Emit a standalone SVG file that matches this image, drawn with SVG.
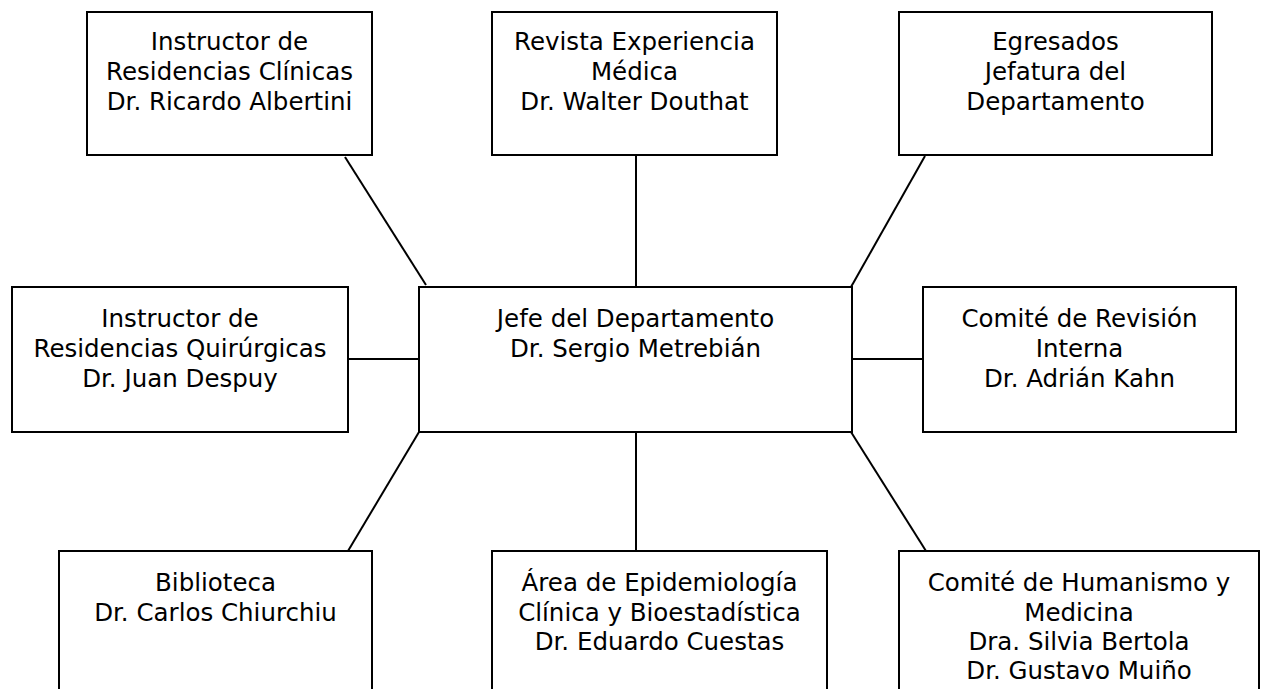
<svg xmlns="http://www.w3.org/2000/svg" width="1261" height="689" viewBox="0 0 1261 689">
<style>
.box{fill:#fff;stroke:#000;stroke-width:2}
.t{font-family:"DejaVu Sans",sans-serif;font-size:24.5px;fill:#000;text-anchor:middle}
.c{stroke:#000;stroke-width:2;fill:none}
</style>
<rect width="1261" height="689" fill="#fff"/>
<g id="connectors">
<line class="c" x1="345" y1="157" x2="426" y2="285"/>
<line class="c" x1="636" y1="155" x2="636" y2="287"/>
<line class="c" x1="925" y1="156" x2="851" y2="287"/>
<line class="c" x1="348" y1="359" x2="419" y2="359"/>
<line class="c" x1="852" y1="359" x2="923" y2="359"/>
<line class="c" x1="419" y1="432" x2="348" y2="551"/>
<line class="c" x1="636" y1="432" x2="636" y2="551"/>
<line class="c" x1="851" y1="432" x2="926" y2="551"/>
</g>
<g id="n_tl">
<rect class="box" x="87" y="12" width="285" height="143"/>
<text class="t" x="229.5" y="50">Instructor de</text>
<text class="t" x="229.5" y="80">Residencias Clínicas</text>
<text class="t" x="229.5" y="110">Dr. Ricardo Albertini</text>
</g>
<g id="n_tm">
<rect class="box" x="492" y="12" width="285" height="143"/>
<text class="t" x="634.5" y="50">Revista Experiencia</text>
<text class="t" x="634.5" y="80">Médica</text>
<text class="t" x="634.5" y="110">Dr. Walter Douthat</text>
</g>
<g id="n_tr">
<rect class="box" x="899" y="12" width="313" height="143"/>
<text class="t" x="1055.5" y="50">Egresados</text>
<text class="t" x="1055.5" y="80">Jefatura del</text>
<text class="t" x="1055.5" y="110">Departamento</text>
</g>
<g id="n_ml">
<rect class="box" x="12" y="287" width="336" height="145"/>
<text class="t" x="180" y="327">Instructor de</text>
<text class="t" x="180" y="357">Residencias Quirúrgicas</text>
<text class="t" x="180" y="387">Dr. Juan Despuy</text>
</g>
<g id="n_center">
<rect class="box" x="419" y="287" width="433" height="145"/>
<text class="t" x="635.5" y="327">Jefe del Departamento</text>
<text class="t" x="635.5" y="357">Dr. Sergio Metrebián</text>
</g>
<g id="n_mr">
<rect class="box" x="923" y="287" width="313" height="145"/>
<text class="t" x="1079.5" y="327">Comité de Revisión</text>
<text class="t" x="1079.5" y="357">Interna</text>
<text class="t" x="1079.5" y="387">Dr. Adrián Kahn</text>
</g>
<g id="n_bl">
<rect class="box" x="59" y="551" width="313" height="160"/>
<text class="t" x="215.5" y="591">Biblioteca</text>
<text class="t" x="215.5" y="621">Dr. Carlos Chiurchiu</text>
</g>
<g id="n_bm">
<rect class="box" x="492" y="551" width="335" height="160"/>
<text class="t" x="659.5" y="591">Área de Epidemiología</text>
<text class="t" x="659.5" y="621">Clínica y Bioestadística</text>
<text class="t" x="659.5" y="650">Dr. Eduardo Cuestas</text>
</g>
<g id="n_br">
<rect class="box" x="899" y="551" width="360" height="160"/>
<text class="t" x="1079" y="591">Comité de Humanismo y</text>
<text class="t" x="1079" y="621">Medicina</text>
<text class="t" x="1079" y="650">Dra. Silvia Bertola</text>
<text class="t" x="1079" y="679">Dr. Gustavo Muiño</text>
</g>
</svg>
